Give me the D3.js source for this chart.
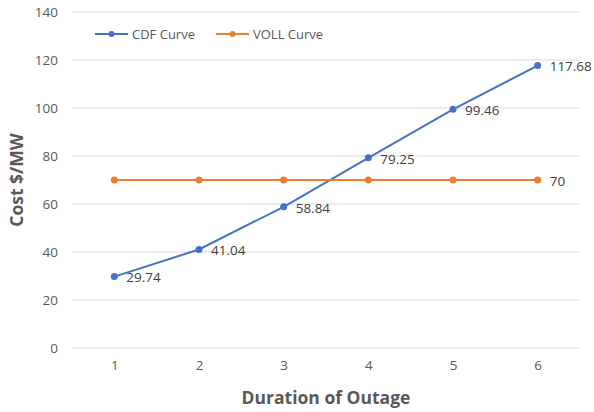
<!DOCTYPE html>
<html>
<head>
<meta charset="utf-8">
<script src="https://cdn.jsdelivr.net/npm/d3@7"></script>
<style>
  body { margin: 0; background: #fff; }
  text { font-family: "Open Sans", "Noto Sans", sans-serif; }
</style>
</head>
<body>
<div id="chart"></div>
<script>
var durations = ["1", "2", "3", "4", "5", "6"];
var cdfValues = [29.74, 41.04, 58.84, 79.25, 99.46, 117.68];
var vollValues = [70, 70, 70, 70, 70, 70];
var yTicks = [0, 20, 40, 60, 80, 100, 120, 140];
var seriesNames = ["CDF Curve", "VOLL Curve"];
var seriesColors = ["#4472c4", "#ed7d31"];

var width = 594,
    height = 412,
    plotLeft = 72, plotRight = 580, plotTop = 12, plotBottom = 348;

var svg = d3.select("#chart")
    .append("svg")
    .attr("width", width)
    .attr("height", height);

var x = d3.scalePoint()
    .domain(durations)
    .range([plotLeft, plotRight])
    .padding(0.5);

var y = d3.scaleLinear()
    .domain([0, 140])
    .range([plotBottom, plotTop]);

/* gridlines */
svg.append("g")
    .selectAll("line")
    .data(yTicks)
    .enter().append("line")
    .attr("x1", plotLeft)
    .attr("x2", plotRight)
    .attr("y1", function(d) { return y(d); })
    .attr("y2", function(d) { return y(d); })
    .attr("stroke", "#d9d9d9")
    .attr("stroke-width", 1);

/* axes */
var yAxis = svg.append("g")
    .attr("transform", "translate(" + (plotLeft - 14) + ",0)")
    .call(d3.axisLeft(y).tickValues(yTicks).tickSize(0).tickPadding(0));
yAxis.select(".domain").remove();
yAxis.selectAll("text")
    .attr("fill", "#595959")
    .style("font-size", "13.5px");

var xAxis = svg.append("g")
    .attr("transform", "translate(0," + (plotBottom + 12) + ")")
    .call(d3.axisBottom(x).tickSize(0).tickPadding(0));
xAxis.select(".domain").remove();
xAxis.selectAll("text")
    .attr("fill", "#595959")
    .style("font-size", "13.5px");

/* axis titles */
svg.append("text")
    .attr("x", (plotLeft + plotRight) / 2)
    .attr("y", 404)
    .attr("text-anchor", "middle")
    .attr("fill", "#595959")
    .style("font-size", "17.5px")
    .style("font-weight", "bold")
    .text("Duration of Outage");

svg.append("text")
    .attr("transform", "translate(23," + ((plotTop + plotBottom) / 2) + ")rotate(-90)")
    .attr("text-anchor", "middle")
    .attr("fill", "#595959")
    .style("font-size", "17.5px")
    .style("font-weight", "bold")
    .text("Cost $/MW");

/* series */
var line = d3.line()
    .x(function(d, i) { return x(durations[i]); })
    .y(function(d) { return y(d); });

var series = [cdfValues, vollValues];

series.forEach(function(vals, s) {
    svg.append("path")
        .datum(vals)
        .attr("d", line)
        .attr("fill", "none")
        .attr("stroke", seriesColors[s])
        .attr("stroke-width", 2);

    svg.append("g")
        .selectAll("circle")
        .data(vals)
        .enter().append("circle")
        .attr("cx", function(d, i) { return x(durations[i]); })
        .attr("cy", function(d) { return y(d); })
        .attr("r", 3.5)
        .attr("fill", seriesColors[s]);
});

/* data labels */
svg.append("g")
    .selectAll("text")
    .data(cdfValues)
    .enter().append("text")
    .attr("x", function(d, i) { return x(durations[i]) + 12; })
    .attr("y", function(d) { return y(d) + 1; })
    .attr("dy", "0.35em")
    .attr("fill", "#404040")
    .style("font-size", "13.5px")
    .text(function(d) { return d; });

svg.append("text")
    .attr("x", x(durations[5]) + 12)
    .attr("y", y(vollValues[5]) + 1)
    .attr("dy", "0.35em")
    .attr("fill", "#404040")
    .style("font-size", "13.5px")
    .text(vollValues[5]);

/* legend */
var legendX = [95, 216];
seriesNames.forEach(function(name, s) {
    var g = svg.append("g").attr("transform", "translate(" + legendX[s] + ",34)");
    g.append("line")
        .attr("x1", 0).attr("x2", 33)
        .attr("stroke", seriesColors[s])
        .attr("stroke-width", 2);
    g.append("circle")
        .attr("cx", 16.5).attr("r", 3)
        .attr("fill", seriesColors[s]);
    g.append("text")
        .attr("x", 37)
        .attr("dy", "0.35em")
        .attr("fill", "#595959")
        .style("font-size", "13px")
        .text(name);
});
</script>
</body>
</html>
